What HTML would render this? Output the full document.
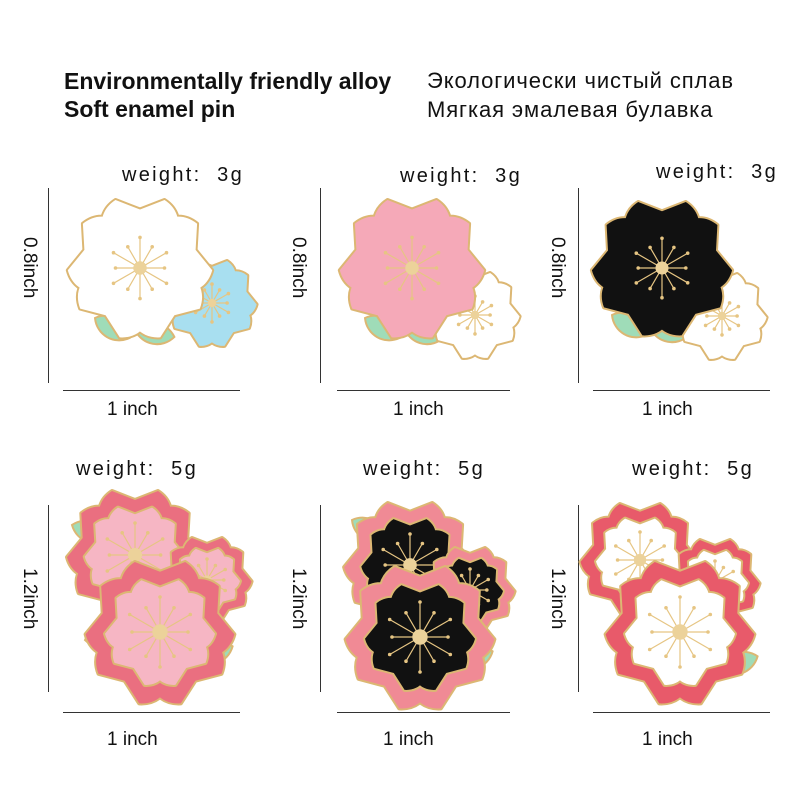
<!DOCTYPE html>
<html><head><meta charset="utf-8"><style>
html,body{margin:0;padding:0;background:#fff;}
body{width:800px;height:800px;position:relative;overflow:hidden;font-family:"Liberation Sans","DejaVu Sans",sans-serif;color:#111;}
.t{position:absolute;white-space:nowrap;}
.b{font-weight:bold;font-size:23px;}
.r{font-size:22px;letter-spacing:0.9px;}
.w{font-size:20px;letter-spacing:2.3px;}
.i{font-size:19px;}
.v{font-size:19px;transform:rotate(90deg);transform-origin:0 0;}
.ln{position:absolute;background:#333;}
</style></head><body>
<div class="t b" style="left:64px;top:68px">Environmentally friendly alloy</div>
<div class="t b" style="left:64px;top:96px">Soft enamel pin</div>
<div class="t r" style="left:427px;top:68px">Экологически чистый сплав</div>
<div class="t r" style="left:427px;top:97px">Мягкая эмалевая булавка</div>

<div class="t w" style="left:122px;top:164px">weight:&nbsp; 3g</div>
<div class="t w" style="left:400px;top:165px">weight:&nbsp; 3g</div>
<div class="t w" style="left:656px;top:161px">weight:&nbsp; 3g</div>
<div class="t w" style="left:76px;top:458px">weight:&nbsp; 5g</div>
<div class="t w" style="left:363px;top:458px">weight:&nbsp; 5g</div>
<div class="t w" style="left:632px;top:458px">weight:&nbsp; 5g</div>

<div class="ln" style="left:48px;top:188px;width:1px;height:195px"></div>
<div class="ln" style="left:320px;top:188px;width:1px;height:195px"></div>
<div class="ln" style="left:578px;top:188px;width:1px;height:195px"></div>
<div class="ln" style="left:48px;top:505px;width:1px;height:187px"></div>
<div class="ln" style="left:320px;top:505px;width:1px;height:187px"></div>
<div class="ln" style="left:578px;top:505px;width:1px;height:187px"></div>

<div class="ln" style="left:63px;top:390px;width:177px;height:1px"></div>
<div class="ln" style="left:337px;top:390px;width:173px;height:1px"></div>
<div class="ln" style="left:593px;top:390px;width:177px;height:1px"></div>
<div class="ln" style="left:63px;top:712px;width:177px;height:1px"></div>
<div class="ln" style="left:337px;top:712px;width:173px;height:1px"></div>
<div class="ln" style="left:593px;top:712px;width:177px;height:1px"></div>

<div class="t v" style="left:40px;top:237px">0.8inch</div>
<div class="t v" style="left:309px;top:237px">0.8inch</div>
<div class="t v" style="left:568px;top:237px">0.8inch</div>
<div class="t v" style="left:40px;top:568px">1.2inch</div>
<div class="t v" style="left:309px;top:568px">1.2inch</div>
<div class="t v" style="left:568px;top:568px">1.2inch</div>

<div class="t i" style="left:107px;top:399px">1 inch</div>
<div class="t i" style="left:393px;top:399px">1 inch</div>
<div class="t i" style="left:642px;top:399px">1 inch</div>
<div class="t i" style="left:107px;top:729px">1 inch</div>
<div class="t i" style="left:383px;top:729px">1 inch</div>
<div class="t i" style="left:642px;top:729px">1 inch</div>

<svg id="s" width="800" height="800" style="position:absolute;left:0;top:0"></svg>
<script>
var G="#dcb773",out=[];
function petal(cx,cy,r,a){
  var P=[[0,0],[-.55,-.2],[-.75,-.75],[-.36,-1],[0,-.86],[.36,-1],[.75,-.75],[.55,-.2]];
  var c=Math.cos(a),s=Math.sin(a);
  var q=P.map(function(p){var x=p[0]*r,y=p[1]*r;return [(cx+x*c-y*s).toFixed(1),(cy+x*s+y*c).toFixed(1)];});
  return "M"+q[0]+" C"+q[1]+" "+q[2]+" "+q[3]+" L"+q[4]+" L"+q[5]+" C"+q[6]+" "+q[7]+" "+q[0]+"Z";
}
function flower(cx,cy,r,fill){
  var d="";for(var i=0;i<5;i++)d+=petal(cx,cy,r,i*Math.PI*2/5);
  out.push('<path d="'+d+'" fill="'+G+'" stroke="'+G+'" stroke-width="4" stroke-linejoin="round"/>');
  out.push('<path d="'+d+'" fill="'+fill+'"/>');
}
function st(cx,cy,r){
  var d="",c="";
  for(var i=0;i<12;i++){var a=i*Math.PI/6,l=(i%2?0.8:1)*r;var x=cx+Math.sin(a)*l,y=cy-Math.cos(a)*l;
    d+="M"+cx+","+cy+"L"+x.toFixed(1)+","+y.toFixed(1);
    c+='<circle cx="'+x.toFixed(1)+'" cy="'+y.toFixed(1)+'" r="1.8" fill="#e6c583"/>';}
  out.push('<path d="'+d+'" stroke="#e6c583" stroke-width="1.2"/>'+c+'<circle cx="'+cx+'" cy="'+cy+'" r="'+(r*0.22)+'" fill="#ecd29a"/>');
}
function leaf(x,y,a){out.push('<path d="M0,0 C10,-14 30,-14 40,0 C30,14 10,14 0,0Z" transform="translate('+x+','+y+') rotate('+a+')" fill="#9fdcb8" stroke="'+G+'" stroke-width="2"/>');}
function rim(cx,cy,r,o,i){flower(cx,cy,r,o);flower(cx,cy,r*0.74,i);st(cx,cy,r*0.5);}
function plain(cx,cy,r,f){flower(cx,cy,r,f);st(cx,cy,r*0.45);}
leaf(95,318,30);leaf(135,330,10);
plain(212,303,42,"#a8dff0");plain(140,268,68,"#ffffff");
leaf(365,318,30);leaf(405,330,10);
plain(475,315,42,"#ffffff");plain(412,268,68,"#f5a9b8");
leaf(612,315,30);leaf(650,328,10);
plain(722,316,42,"#ffffff");plain(662,268,66,"#111111");
leaf(72,525,20);leaf(85,640,-10);leaf(195,660,-20);
rim(135,555,64,"#ea6f80","#f6b6c4");rim(207,580,42,"#ea6f80","#f6b6c4");rim(160,632,70,"#ea6f80","#f6b6c4");
leaf(352,520,30);leaf(350,635,-5);leaf(455,665,-20);
rim(410,565,62,"#f08a95","#111111");rim(470,590,42,"#f08a95","#111111");rim(420,637,70,"#f08a95","#111111");
leaf(596,535,20);leaf(610,645,-10);leaf(720,670,-20);
rim(640,560,56,"#e85a6a","#ffffff");rim(715,582,42,"#e85a6a","#ffffff");rim(680,632,70,"#e85a6a","#ffffff");
document.getElementById("s").innerHTML=out.join("");
</script>
</body></html>
